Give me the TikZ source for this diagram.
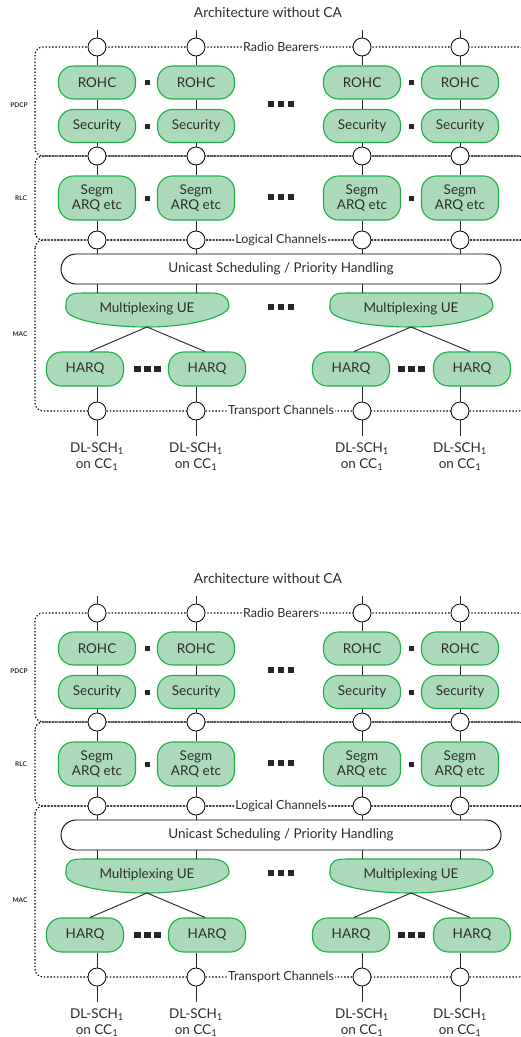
\documentclass[tikz,border=0pt]{standalone}
\usepackage{fontspec}
\setmainfont{Lato}
\usetikzlibrary{calc}
\definecolor{gfill}{RGB}{170,218,186}
\definecolor{gline}{RGB}{30,175,75}
\definecolor{txt}{RGB}{45,45,45}
\newcommand{\boxfont}{\fontsize{13.5}{15}\selectfont}
\newcommand{\titfont}{\fontsize{13.8}{16}\selectfont}
\newcommand{\chfont}{\fontsize{12.5}{14}\selectfont}
\newcommand{\lnfont}{\fontsize{6.5}{7}\selectfont\bfseries}
\tikzset{
 gbox/.style={draw=gline, fill=gfill, line width=1.1pt, rounded corners=15pt, minimum width=77pt, minimum height=33pt, inner sep=0pt, font=\boxfont, text=txt, align=center},
 ring/.style={circle, draw=black, fill=white, line width=0.8pt, minimum size=18pt, inner sep=0pt},
 layer/.style={draw=black, line width=1.1pt, dash pattern=on 1.4pt off 1.9pt, rounded corners=8pt},
 chlabel/.style={fill=white, inner sep=1.5pt, font=\chfont, text=txt},
 lname/.style={font=\lnfont, text=txt},
 sq/.style={fill=black!85, draw=none, minimum size=5pt, inner sep=0pt},
 bsq/.style={fill=black!85, draw=none, minimum size=6.5pt, inner sep=0pt},
 link/.style={draw=black!85, line width=0.9pt},
}
\begin{document}
\begin{tikzpicture}[x=1pt,y=-1pt]
\useasboundingbox[fill=white] (0,0) rectangle (521,1037);
\foreach \p/\oy in {a/0,b/566}{
\begin{scope}[yshift=-\oy pt]
 % title
 \node[font=\titfont, text=txt] (\p-title) at (268,12) {Architecture without CA};
 % layer outlines
 \draw[layer] (35,47) rectangle (527,156);
 \draw[layer] (35,156) rectangle (527,240);
 \draw[layer] (35,240) rectangle (527,411);
 \node[lname] (\p-pdcp) at (19,105) {PDCP};
 \node[lname] (\p-rlc) at (21,198) {RLC};
 \node[lname] (\p-mac) at (20,334) {MAC};
 % channel labels
 \node[chlabel] (\p-rbl) at (281,47) {Radio Bearers};
 \node[chlabel] (\p-lcl) at (281,240) {Logical Channels};
 \node[chlabel] (\p-tcl) at (281,411) {Transport Channels};
 % unicast box
 \node[draw=black, fill=white, line width=0.9pt, rounded corners=15pt, minimum width=440pt, minimum height=30pt, inner sep=0pt, font=\boxfont, text=txt] (\p-uni) at (281,269) {Unicast Scheduling / Priority Handling};
 % multiplexing shapes
 \foreach \m/\cx in {1/147,2/411}{
  \draw[draw=gline, fill=gfill, line width=1.1pt]
   ({\cx-81},309) -- ({\cx-81},305) .. controls ({\cx-81},295) and ({\cx-76},293) .. ({\cx-64},293)
   -- ({\cx+64},293) .. controls ({\cx+77},293) and ({\cx+82},299) .. ({\cx+82},306)
   .. controls ({\cx+82},316) and ({\cx+45},327) .. (\cx,327)
   .. controls ({\cx-45},327) and ({\cx-81},319) .. ({\cx-81},309) -- cycle;
  \node[font=\boxfont, text=txt, inner sep=0pt] (\p-mux\m) at (\cx,309) {Multiplexing UE};
  \coordinate (\p-muxt\m) at (\cx,293);
  \coordinate (\p-muxb\m) at (\cx,327);
 }
 % HARQ boxes
 \foreach \h/\hx/\m/\sh in {1/85/1/5,2/207/1/-2,3/351/2/3,4/472/2/-2}{
  \node[gbox, minimum height=34pt] (\p-h\h) at (\hx,369) {HARQ};
  \draw[link] (\p-muxb\m) -- ([xshift=\sh pt]\p-h\h.north);
 }
 % columns
 \foreach \i/\x/\m in {1/97/1,2/196/1,3/362/2,4/460/2}{
  \coordinate (\p-top\i) at (\x,30);
  \coordinate (\p-bot\i) at (\x,436);
  \node[ring] (\p-rb\i) at (\x,47) {};
  \node[gbox] (\p-rohc\i) at (\x,82.5) {ROHC};
  \node[gbox] (\p-sec\i) at (\x,126) {Security};
  \node[ring] (\p-pr\i) at (\x,156) {};
  \node[gbox, minimum height=44pt] (\p-seg\i) at (\x,198) {Segm\\[-0.5pt]ARQ etc};
  \node[ring] (\p-lc\i) at (\x,240) {};
  \node[ring] (\p-tc\i) at (\x,411) {};
  \node[font=\boxfont, text=txt, align=center, inner sep=0pt] (\p-dl\i) at (\x,457) {DL-SCH\textsubscript{1}\\[1pt]on CC\textsubscript{1}};
  \draw[link] (\p-top\i) -- (\p-rb\i);
  \draw[link] (\p-rb\i) -- (\p-rohc\i);
  \draw[link] (\p-rohc\i) -- (\p-sec\i);
  \draw[link] (\p-sec\i) -- (\p-pr\i);
  \draw[link] (\p-pr\i) -- (\p-seg\i);
  \draw[link] (\p-seg\i) -- (\p-lc\i);
  \draw[link] (\p-lc\i) -- (\p-lc\i |- \p-uni.north);
  \draw[link] (\p-lc\i |- \p-uni.south) -- (\p-lc\i |- \p-muxt\m);
  \draw[link] (\p-tc\i |- \p-h\i.south) -- (\p-tc\i);
  \draw[link] (\p-tc\i) -- (\p-bot\i);
 }
 % separator squares
 \foreach \s/\sx/\sy in {1/147/82.5,2/147/126,3/147/198,4/411/82.5,5/411/126,6/411/198}{
  \node[sq] (\p-sq\s) at (\sx,\sy) {};
 }
 % ellipsis squares
 \foreach \e/\ex/\ey in {1/281/104,2/281/197,3/281/307,4/147.5/369,5/411.5/369}{
  \node[bsq] (\p-e\e a) at ({\ex-10},\ey) {};
  \node[bsq] (\p-e\e b) at (\ex,\ey) {};
  \node[bsq] (\p-e\e c) at ({\ex+10},\ey) {};
 }
\end{scope}
}
\end{tikzpicture}
\end{document}
